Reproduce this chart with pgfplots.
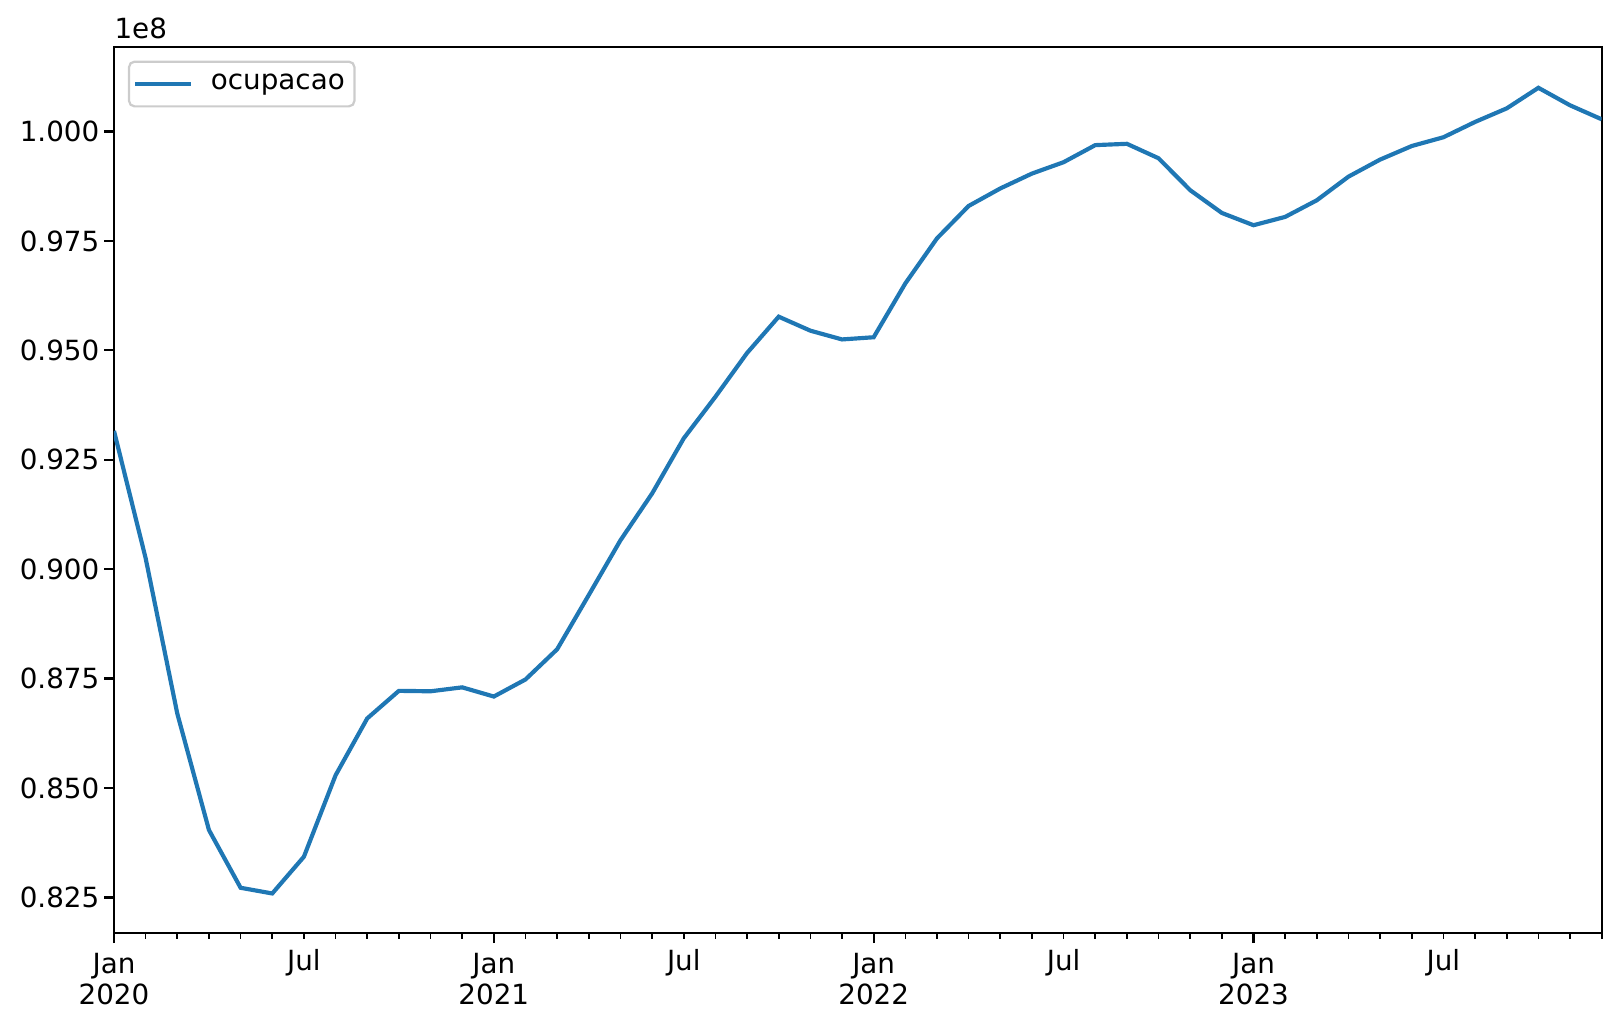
\documentclass[border=0pt]{standalone}
\usepackage{fontspec}
\setmainfont{DejaVu Sans}
\usepackage{pgfplots}
\pgfplotsset{compat=1.18}
\definecolor{mplblue}{HTML}{1F77B4}

\begin{document}
\begin{tikzpicture}
\useasboundingbox (-41.04pt,-34.1pt) rectangle (542.55pt,336pt);
\begin{axis}[
	scale only axis,
	width=535.6pt, height=319.2pt,
	xmin=0, xmax=47,
	ymin=0.8168, ymax=1.0194,
	clip mode=individual,
	axis line style={line width=0.8pt},
	tick align=outside,
	tick pos=left,
	major tick length=3.5pt,
	minor tick length=2pt,
	every tick/.style={black, line width=0.8pt},
	minor tick style={line width=0.6pt},
	font=\fontsize{10}{11}\selectfont,
	xtick={0,12,24,36},
	xticklabels={Jan\\2020, Jan\\2021, Jan\\2022, Jan\\2023},
	xticklabel style={align=center, inner sep=3.5pt},
	minor xtick={1,2,3,4,5,7,8,9,10,11,13,14,15,16,17,19,20,21,22,23,25,26,27,28,29,31,32,33,34,35,37,38,39,40,41,43,44,45,46,47},
	extra x ticks={6,18,30,42},
	extra x tick labels={Jul,Jul,Jul,Jul},
	extra x tick style={major tick length=2pt, tick style={line width=0.6pt}},
	ytick={0.825,0.85,0.875,0.9,0.925,0.95,0.975,1.0},
	yticklabels={0.825,0.850,0.875,0.900,0.925,0.950,0.975,1.000},
	yticklabel style={inner sep=1.6pt},
	legend cell align=left,
	legend image code/.code={\draw[#1] (0pt,0pt) -- (20pt,0pt);},
	legend style={at={(0,1)}, anchor=north west, xshift=5pt, yshift=-5pt,
		draw=black!20, line width=0.8pt, rounded corners=2pt,
		fill=white, fill opacity=0.8, text opacity=1,
		inner xsep=1.5pt, inner ysep=2.5pt,
		font=\fontsize{10}{12}\selectfont},
]
\addplot[mplblue, line width=1.5pt] coordinates {
(0,0.9316) (1,0.9025) (2,0.8670) (3,0.8404) (4,0.8272) (5,0.8259)
(6,0.8343) (7,0.8529) (8,0.8659) (9,0.8722) (10,0.8721) (11,0.8730)
(12,0.8709) (13,0.8748) (14,0.8817) (15,0.8941) (16,0.9066) (17,0.9173)
(18,0.9299) (19,0.9394) (20,0.9494) (21,0.9577) (22,0.9545) (23,0.9525)
(24,0.9530) (25,0.9653) (26,0.9756) (27,0.9830) (28,0.9870) (29,0.9904)
(30,0.9930) (31,0.9969) (32,0.9972) (33,0.9939) (34,0.9866) (35,0.9814)
(36,0.9786) (37,0.9805) (38,0.9843) (39,0.9897) (40,0.9936) (41,0.9967)
(42,0.9987) (43,1.0022) (44,1.0053) (45,1.0100) (46,1.0060) (47,1.0028)
};
\addlegendentry{\hspace{4.5pt}ocupacao}
\node[anchor=base west, inner sep=0pt, font=\fontsize{10}{12}\selectfont] at ([yshift=3pt]rel axis cs:0,1) {1e8};
\end{axis}
\end{tikzpicture}
\end{document}
